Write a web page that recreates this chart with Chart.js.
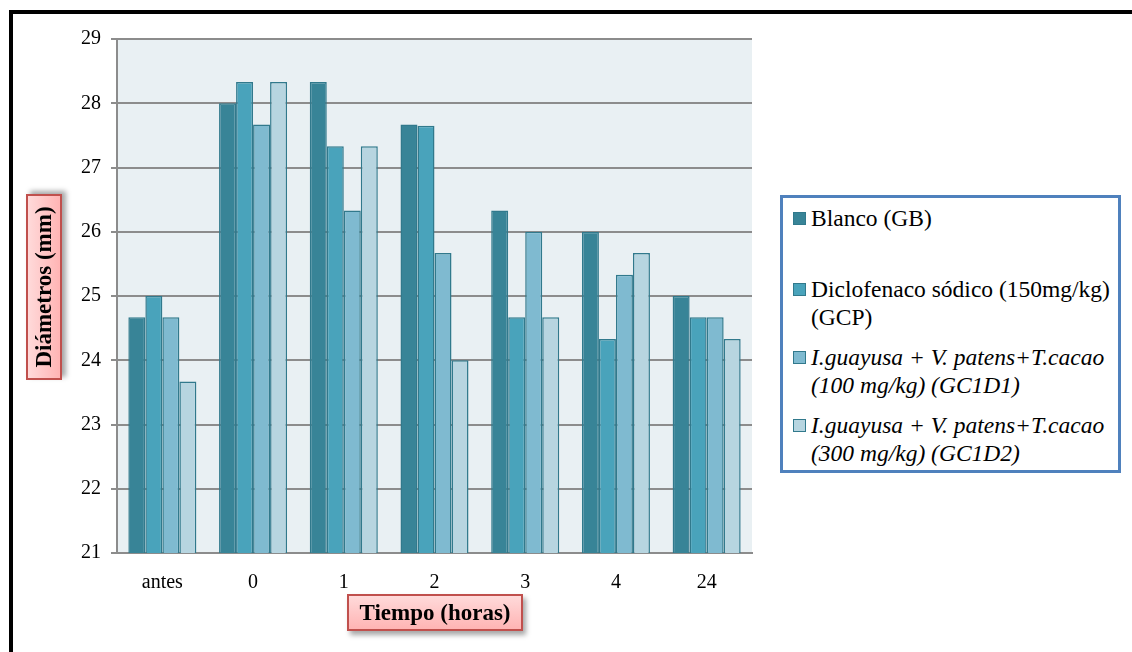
<!DOCTYPE html>
<html>
<head>
<meta charset="utf-8">
<script src="https://cdn.jsdelivr.net/npm/chart.js@4.4.1/dist/chart.umd.min.js"></script>
<style>
  html, body { margin:0; padding:0; background:#fff; width:1132px; height:652px; overflow:hidden; }
  #frame { position:absolute; left:9px; top:10px; width:1200px; height:700px; border-left:4px solid #000; border-top:4px solid #000; box-sizing:border-box; }
  #wrap { position:absolute; left:0; top:0; width:1132px; height:652px; }
  .tbox { position:absolute; box-sizing:border-box; border:2px solid #c0504d;
          background:linear-gradient(#ffdada, #ffb4b4); box-shadow:3px 4px 5px rgba(0,0,0,0.35);
          font-family:"Liberation Serif","Times New Roman",serif; font-weight:bold; color:#000;
          display:flex; align-items:center; justify-content:center; white-space:nowrap; }
  #ytitle { left:-49px; top:269px; width:186px; height:36px; transform:rotate(-90deg); font-size:23px; }
  #xtitle { left:347px; top:594px; width:176px; height:37px; font-size:23px; }
  #legend { position:absolute; left:780px; top:195px; width:341px; height:278px; box-sizing:border-box;
            border:3px solid #4f81bd; background:#fff; font-family:"Liberation Serif","Times New Roman",serif;
            font-size:23.5px; color:#000; }
  .item { position:absolute; left:10px; line-height:28px; }
  .sw { position:absolute; left:0; top:8px; width:11px; height:11px; border:1px solid #31798c; }
  .txt { margin-left:18px; white-space:nowrap; }
  .it { font-style:italic; }
</style>
</head>
<body>
<div id="frame"></div>
<div id="wrap"><canvas id="c" width="1132" height="652"></canvas></div>
<div class="tbox" id="ytitle">Diámetros (mm)</div>
<div class="tbox" id="xtitle">Tiempo (horas)</div>
<div id="legend"></div>
<script>
const categories = ["antes", "0", "1", "2", "3", "4", "24"];
const seriesNames = [
  ["Blanco (GB)"],
  ["Diclofenaco sódico (150mg/kg)", "(GCP)"],
  ["I.guayusa + V. patens+T.cacao", "(100 mg/kg) (GC1D1)"],
  ["I.guayusa + V. patens+T.cacao", "(300 mg/kg) (GC1D2)"]
];
const blanco      = [24.67, 28.00, 28.33, 27.67, 26.33, 26.00, 25.00];
const diclofenaco = [25.00, 28.33, 27.33, 27.65, 24.67, 24.33, 24.67];
const gc1d1       = [24.67, 27.67, 26.33, 25.67, 26.00, 25.33, 24.67];
const gc1d2       = [23.67, 28.33, 27.33, 24.00, 24.67, 25.67, 24.33];
const yTicks = [21, 22, 23, 24, 25, 26, 27, 28, 29];

const colors = ["#388497", "#49a3bb", "#7fbad0", "#b7d5e0"];
const italic = [false, false, true, true];
const values = [blanco, diclofenaco, gc1d1, gc1d2];

// legend (HTML)
const legendTops = [6, 77, 145, 213];
const lg = document.getElementById('legend');
seriesNames.forEach((lines, i) => {
  const d = document.createElement('div');
  d.className = 'item';
  d.style.top = legendTops[i] + 'px';
  d.innerHTML = '<div class="sw" style="background:' + colors[i] + '"></div><div class="txt' + (italic[i] ? ' it' : '') + '">' + lines.join('<br>') + '</div>';
  lg.appendChild(d);
});

const bgPlugin = {
  id: 'bg',
  beforeDraw(chart) {
    const a = chart.chartArea, ctx = chart.ctx;
    ctx.save();
    ctx.fillStyle = '#e9f0f3';
    ctx.fillRect(a.left, a.top, a.right - a.left, a.bottom - a.top);
    ctx.restore();
  }
};

new Chart(document.getElementById('c'), {
  type: 'bar',
  data: {
    labels: categories,
    datasets: values.map((v, i) => ({
      label: seriesNames[i].join(' '),
      data: v,
      backgroundColor: colors[i],
      borderColor: '#31798c',
      borderWidth: 1.5,
      borderSkipped: 'bottom',
      categoryPercentage: 0.75,
      barPercentage: 1.0
    }))
  },
  options: {
    responsive: false,
    animation: false,
    layout: { padding: { left: 0, top: 39, right: 380, bottom: 0 } },
    plugins: { legend: { display: false }, tooltip: { enabled: false } },
    scales: {
      x: {
        grid: { display: false },
        border: { display: true, color: '#8c8c8c', width: 2 },
        ticks: { color: '#000', font: { family: 'Liberation Serif', size: 20 }, padding: 10 },
        afterFit(s) { s.height = 99; }
      },
      y: {
        min: 21, max: 29,
        afterBuildTicks(s) { s.ticks = yTicks.map(v => ({ value: v })); },
        grid: { color: '#8c8c8c', lineWidth: 2, tickLength: 6, drawTicks: true },
        border: { display: true, color: '#8c8c8c', width: 2 },
        ticks: { color: '#000', font: { family: 'Liberation Serif', size: 20 }, padding: 10 },
        afterFit(s) { s.width = 117; }
      }
    }
  },
  plugins: [bgPlugin]
});
</script>
</body>
</html>
